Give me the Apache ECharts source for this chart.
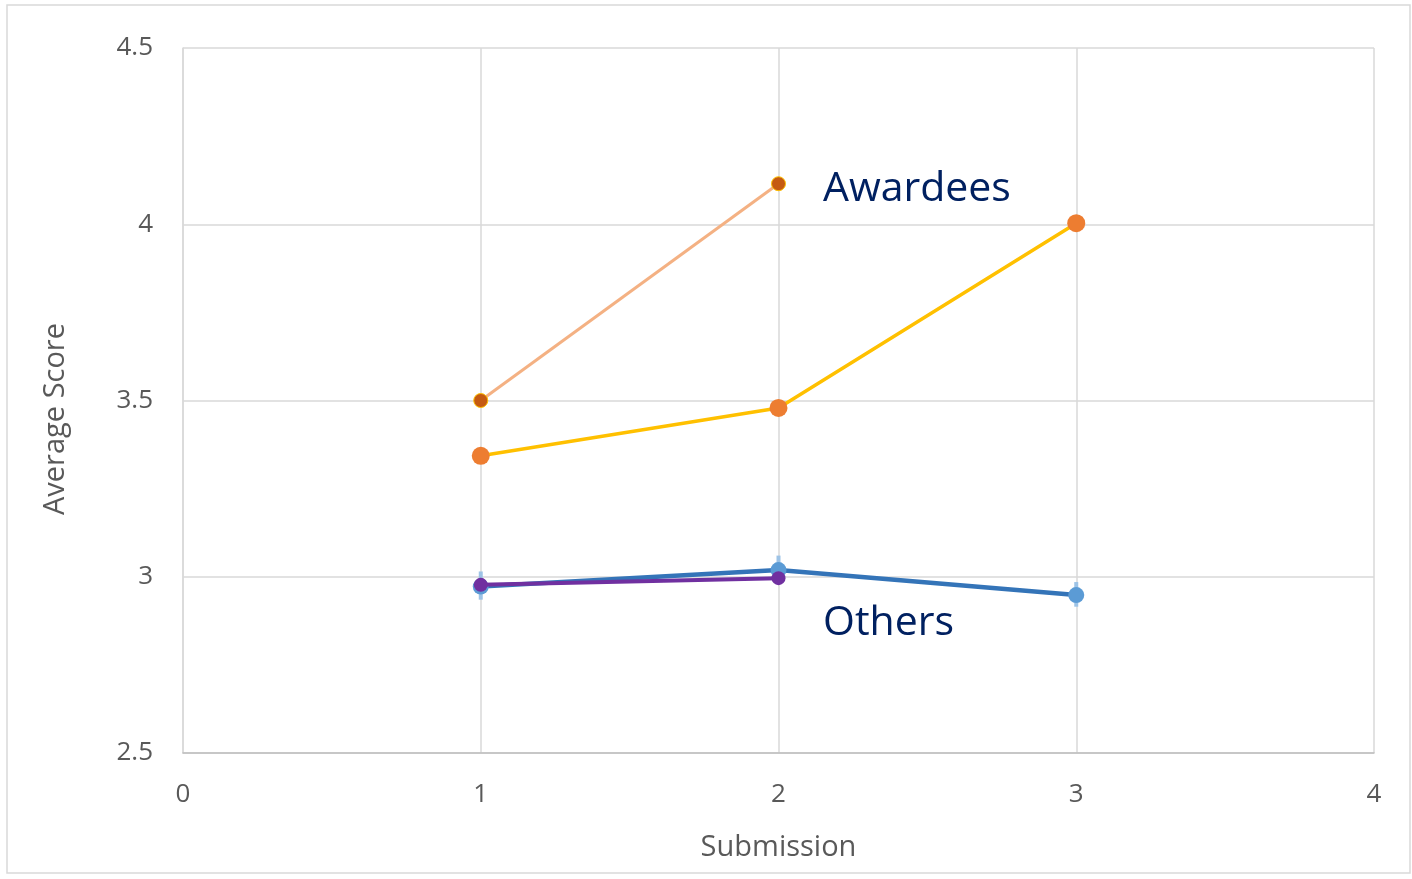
<!DOCTYPE html>
<html>
<head>
<meta charset="utf-8">
<script src="https://cdn.jsdelivr.net/npm/echarts@6/dist/echarts.min.js"></script>
<style>html,body{margin:0;padding:0;background:#fff}#c{width:1412px;height:879px}</style>
</head>
<body>
<div id="c"></div>
<script>
const submissionsA = [1, 2];
const awardeesA = [3.50, 4.115];
const submissionsB = [1, 2, 3];
const awardeesB = [3.343, 3.479, 4.003];
const submissionsC = [1, 2, 3];
const othersC = [2.972, 3.019, 2.948];
const othersCLow = [2.935, 2.985, 2.915];
const othersCHigh = [3.015, 3.06, 2.985];
const submissionsD = [1, 2];
const othersD = [2.977, 2.996];
const xTicks = [0, 1, 2, 3, 4];
const yTicks = [2.5, 3, 3.5, 4, 4.5];
const annotations = ['Awardees', 'Others'];
const axisTitles = ['Submission', 'Average Score'];

const pairs = (xs, ys) => xs.map((x, i) => [x, ys[i]]);
const font = '"Open Sans", "Noto Sans", sans-serif';

const chart = echarts.init(document.getElementById('c'), null, {renderer: 'canvas'});
chart.setOption({
  animation: false,
  backgroundColor: '#fff',
  grid: {left: 183, right: 38, top: 48, bottom: 126, containLabel: false},
  xAxis: {
    type: 'value', min: xTicks[0], max: xTicks[xTicks.length - 1], interval: 1,
    name: axisTitles[0], nameLocation: 'middle', nameGap: 80,
    nameTextStyle: {color: '#595959', fontSize: 29, fontFamily: font},
    axisLine: {show: true, lineStyle: {color: '#bfbfbf', width: 1.5}},
    axisTick: {show: false},
    axisLabel: {color: '#595959', fontSize: 26, fontFamily: font, margin: 29},
    splitLine: {show: true, lineStyle: {color: '#d9d9d9', width: 1.5}}
  },
  yAxis: {
    type: 'value', min: yTicks[0], max: yTicks[yTicks.length - 1], interval: 0.5,
    axisLine: {show: true, lineStyle: {color: '#d9d9d9', width: 1.5}},
    axisTick: {show: false},
    axisLabel: {color: '#595959', fontSize: 26, fontFamily: font, margin: 30},
    splitLine: {show: true, lineStyle: {color: '#d9d9d9', width: 1.5}}
  },
  series: [
    {
      type: 'custom',
      data: submissionsC.map((x, i) => [x, othersCLow[i], othersCHigh[i]]),
      renderItem: function (params, api) {
        const lo = api.coord([api.value(0), api.value(1)]);
        const hi = api.coord([api.value(0), api.value(2)]);
        return {
          type: 'line',
          shape: {x1: lo[0], y1: lo[1], x2: hi[0], y2: hi[1]},
          style: {stroke: '#9dc3e6', lineWidth: 4}
        };
      },
      z: 1
    },
    {
      type: 'line', data: pairs(submissionsC, othersC),
      symbol: 'circle', symbolSize: 16,
      lineStyle: {color: '#3474b8', width: 4.5},
      itemStyle: {color: '#5b9bd5'}, z: 2
    },
    {
      type: 'line', data: pairs(submissionsD, othersD),
      symbol: 'circle', symbolSize: 14,
      lineStyle: {color: '#7030a0', width: 4},
      itemStyle: {color: '#7030a0'}, z: 3
    },
    {
      type: 'line', data: pairs(submissionsB, awardeesB),
      symbol: 'circle', symbolSize: 18,
      lineStyle: {color: '#ffc000', width: 3.5},
      itemStyle: {color: '#ed7d31'}, z: 4
    },
    {
      type: 'line', data: pairs(submissionsA, awardeesA),
      symbol: 'circle', symbolSize: 14,
      lineStyle: {color: '#f4b183', width: 3},
      itemStyle: {color: '#c55a11', borderColor: '#ffc000', borderWidth: 1}, z: 5
    }
  ],
  graphic: [
    {type: 'rect', shape: {x: 7, y: 5, width: 1403, height: 868}, style: {fill: 'none', stroke: '#d9d9d9', lineWidth: 1.5}, silent: true, z: -10},
    {type: 'text', x: 56, y: 419, rotation: Math.PI / 2, style: {text: axisTitles[1], fill: '#595959', font: '29px ' + font, align: 'center', verticalAlign: 'middle'}},
    {type: 'text', left: 823, top: 169, style: {text: annotations[0], fill: '#002060', font: '41px ' + font}},
    {type: 'text', left: 823, top: 603, style: {text: annotations[1], fill: '#002060', font: '41px ' + font}}
  ]
});
</script>
</body>
</html>
